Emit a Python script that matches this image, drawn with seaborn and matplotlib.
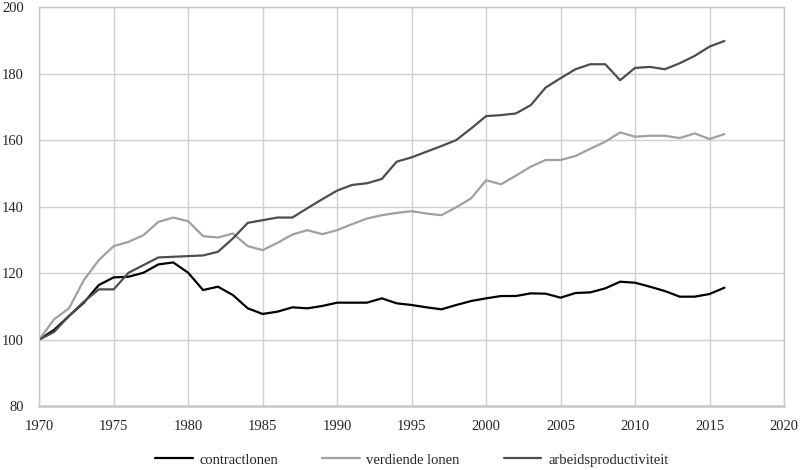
import pandas as pd
import matplotlib.pyplot as plt
import seaborn as sns

years = list(range(1970, 2017))

contractlonen = [100, 102.9, 107.1, 111.1, 116.4, 118.7, 118.9, 120.1, 122.6, 123.2,
                 120.1, 114.9, 115.9, 113.4, 109.4, 107.7, 108.4, 109.7, 109.4, 110.1,
                 111.1, 111.1, 111.1, 112.4, 110.9, 110.4, 109.7, 109.1, 110.4, 111.6,
                 112.4, 113.1, 113.1, 113.9, 113.8, 112.6, 114.0, 114.2, 115.4, 117.4,
                 117.1, 115.9, 114.6, 112.9, 112.9, 113.7, 115.6]

verdiende_lonen = [100, 106.1, 109.4, 117.9, 123.9, 128.1, 129.4, 131.4, 135.4, 136.7,
                   135.6, 131.1, 130.7, 131.9, 128.1, 126.9, 129.1, 131.6, 132.9, 131.7,
                   132.9, 134.7, 136.4, 137.4, 138.1, 138.6, 137.9, 137.4, 139.8, 142.5,
                   147.9, 146.7, 149.3, 152.0, 154.0, 154.0, 155.2, 157.4, 159.5, 162.3,
                   161.0, 161.3, 161.3, 160.6, 162.0, 160.3, 161.8]

arbeidsproductiviteit = [100, 102.3, 107.1, 111.4, 115.1, 115.1, 120.1, 122.4, 124.7, 124.9,
                         125.1, 125.3, 126.4, 130.4, 135.1, 135.9, 136.7, 136.7, 139.5, 142.2,
                         144.8, 146.5, 147.0, 148.3, 153.5, 154.8, 156.5, 158.2, 160.0, 163.5,
                         167.2, 167.5, 168.0, 170.5, 175.8, 178.6, 181.3, 182.8, 182.8, 178.0,
                         181.7, 182.0, 181.3, 183.1, 185.3, 188.1, 189.8]

series_names = ['contractlonen', 'verdiende lonen', 'arbeidsproductiviteit']
colors = ['#000000', '#a0a0a0', '#4d4d4d']

df = pd.concat([
    pd.DataFrame({'jaar': years, 'index': vals, 'reeks': name})
    for name, vals in zip(series_names, [contractlonen, verdiende_lonen, arbeidsproductiviteit])
])

sns.set_style('white')
plt.rcParams['font.family'] = ['Liberation Serif']

fig = plt.figure(figsize=(8, 4.7), dpi=100)
ax = fig.add_axes([0.049, 0.136, 0.931, 0.849])

sns.lineplot(data=df, x='jaar', y='index', hue='reeks', hue_order=series_names,
             palette=dict(zip(series_names, colors)), linewidth=1.6, ax=ax)

ax.set_xlim(1970, 2020)
ax.set_ylim(80, 200)
ax.set_xticks(range(1970, 2021, 5))
ax.set_yticks(range(80, 201, 20))
ax.grid(True, color='#d0d0d0', linewidth=1)
ax.set_axisbelow(True)
for s in ax.spines.values():
    s.set_color('#c8c8c8')
    s.set_linewidth(1)
ax.spines['bottom'].set_linewidth(1.8)
ax.tick_params(length=0, labelsize=10.5)
ax.tick_params(axis='x', pad=10)
ax.tick_params(axis='y', pad=11)
ax.set_xlabel('')
ax.set_ylabel('')

ax.legend(loc='center', bbox_to_anchor=(0.5, -0.135), ncol=3, frameon=False,
          fontsize=10.5, handlelength=2.6, columnspacing=3.0, handletextpad=0.45,
          borderpad=0)

fig.savefig('out.png', dpi=100)
